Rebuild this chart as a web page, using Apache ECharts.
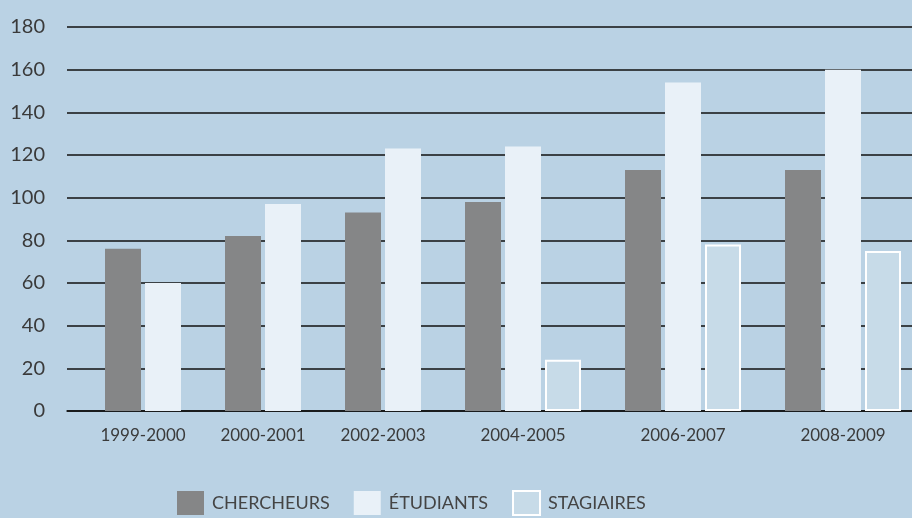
<!DOCTYPE html>
<html>
<head>
<meta charset="utf-8">
<script src="https://cdn.jsdelivr.net/npm/echarts@6/dist/echarts.min.js"></script>
<style>
html,body{margin:0;padding:0;background:#bad2e4;}
#c{width:912px;height:518px;}
</style>
</head>
<body>
<div id="c"></div>
<script>
const categories = ['1999-2000','2000-2001','2002-2003','2004-2005','2006-2007','2008-2009'];
const chercheurs = [76, 82, 93, 98, 113, 113];
const etudiants  = [60, 97, 123, 124, 154, 160];
const stagiaires = [0, 0, 0, 24, 78, 75];
const seriesNames = ['CHERCHEURS', 'ÉTUDIANTS', 'STAGIAIRES'];
const yTicks = [0, 20, 40, 60, 80, 100, 120, 140, 160, 180];

// Slot layout: one slot per non-zero bar, one empty slot between groups
const values = [chercheurs, etudiants, stagiaires];
const seriesData = [[], [], []];
const labelPos = [];
let slot = 1;
categories.forEach((c, i) => {
  const start = slot;
  values.forEach((arr, k) => {
    if (arr[i] > 0) { seriesData[k].push([slot + 0.5, arr[i]]); slot++; }
  });
  labelPos.push(start + (slot - start) / 2);
  slot++;
});

const FONT = 'Lato';
const chart = echarts.init(document.getElementById('c'));
chart.setOption({
  backgroundColor: '#bad2e4',
  animation: false,
  grid: { left: 67, right: 0, top: 27, bottom: 107 },
  xAxis: {
    type: 'value', min: 0.1, max: 21.225,
    axisLine: { show: true, lineStyle: { color: '#111', width: 1.5 } },
    axisTick: { show: false },
    splitLine: { show: false },
    axisLabel: {
      customValues: labelPos,
      formatter: v => { const i = labelPos.findIndex(p => Math.abs(p - v) < 1e-6); return i >= 0 ? categories[i] : ''; },
      color: '#3a3a3a', fontFamily: FONT, fontSize: 17, margin: 16
    }
  },
  yAxis: {
    type: 'value', min: yTicks[0], max: yTicks[yTicks.length - 1], interval: 20,
    axisLine: { show: false }, axisTick: { show: false },
    splitLine: { show: true, lineStyle: { color: '#111', width: 1.5 } },
    axisLabel: { color: '#3a3a3a', fontFamily: FONT, fontSize: 20, margin: 22, padding: [0, 0, 12, 0] }
  },
  legend: {
    left: 172, top: 485, itemWidth: 27, itemHeight: 24, itemGap: 24,
    icon: 'rect',
    data: seriesNames,
    textStyle: { color: '#444', fontFamily: FONT, fontSize: 18, padding: [10, 0, 0, 3] }
  },
  series: [
    { name: seriesNames[0], type: 'bar', data: seriesData[0], barWidth: 36, barGap: '-100%',
      itemStyle: { color: '#858687' } },
    { name: seriesNames[1], type: 'bar', data: seriesData[1], barWidth: 36, barGap: '-100%',
      itemStyle: { color: '#e9f1f8' } },
    { name: seriesNames[2], type: 'bar', data: seriesData[2], barWidth: 36, barGap: '-100%',
      itemStyle: { color: '#c7dbe8', borderColor: '#ffffff', borderWidth: 2 } }
  ]
});
</script>
</body>
</html>
